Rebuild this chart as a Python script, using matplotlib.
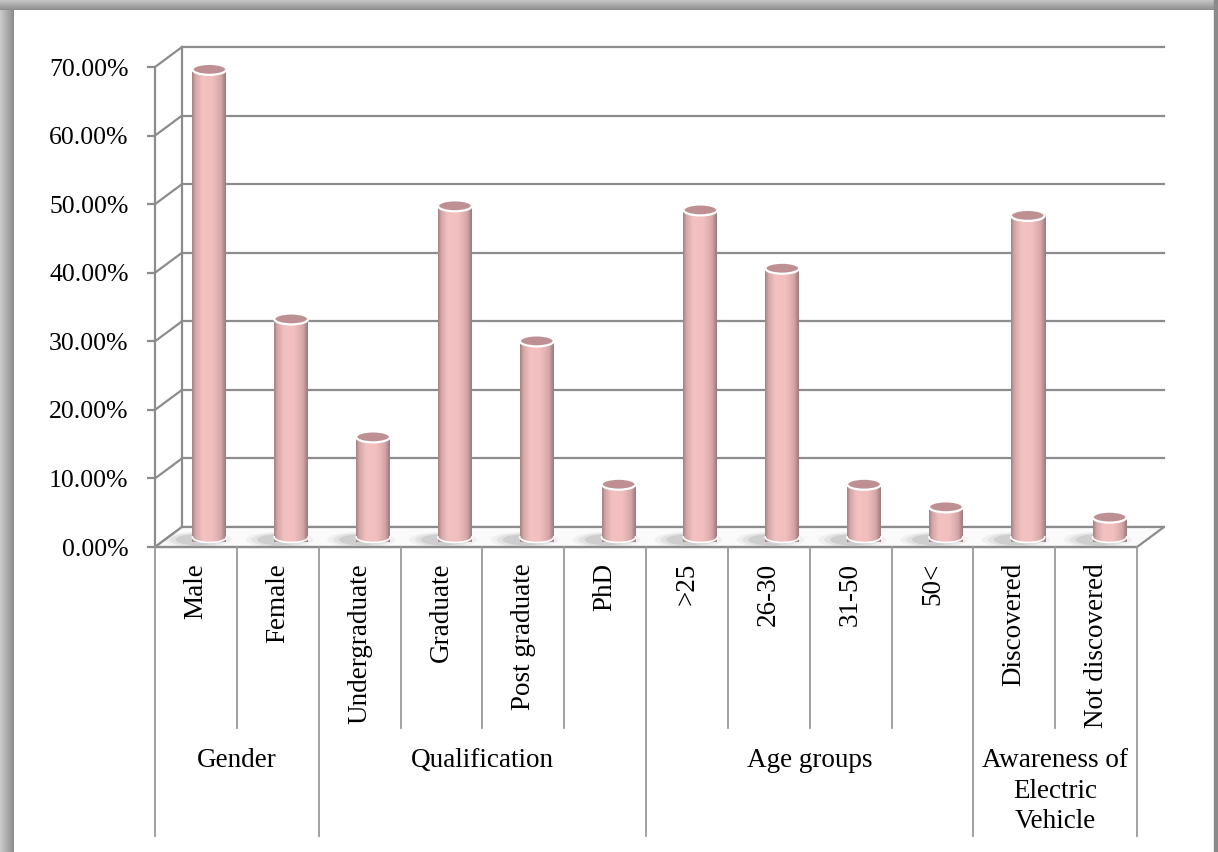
import numpy as np
import matplotlib
matplotlib.use("Agg")
import matplotlib.pyplot as plt
from matplotlib.path import Path
from matplotlib.patches import PathPatch, Ellipse, Polygon
from matplotlib.colors import LinearSegmentedColormap

# ---------------- data ----------------
categories = ["Male", "Female", "Undergraduate", "Graduate", "Post graduate", "PhD",
              ">25", "26-30", "31-50", "50<", "Discovered", "Not discovered"]
values = [68.2, 31.8, 14.6, 48.3, 28.6, 7.7, 47.7, 39.2, 7.7, 4.4, 46.9, 2.9]
groups = ["Gender", "Qualification", "Age groups", "Awareness of\nElectric\nVehicle"]
group_sizes = [2, 4, 4, 2]
yticks = [0, 10, 20, 30, 40, 50, 60, 70]
ytick_labels = ["0.00%", "10.00%", "20.00%", "30.00%", "40.00%", "50.00%", "60.00%", "70.00%"]

plt.rcParams['font.family'] = ['Liberation Serif', 'DejaVu Serif']

W, H = 1218, 852
fig = plt.figure(figsize=(W / 100, H / 100), dpi=100)
fig.patch.set_facecolor("white")

# ---------------- frame (background decoration) ----------------
bg = fig.add_axes([0, 0, 1, 1], zorder=-10)
bg.set_xlim(0, W)
bg.set_ylim(H, 0)
bg.axis("off")
left_grad = np.linspace(0.80, 0.55, 50).reshape(1, -1)
bg.imshow(left_grad, extent=[0, 14, H, 0], cmap="gray", vmin=0, vmax=1, aspect="auto")
top_grad = np.linspace(0.78, 0.55, 50).reshape(-1, 1)
bg.imshow(top_grad, extent=[0, W, 10, 0], cmap="gray", vmin=0, vmax=1, aspect="auto")
bg.add_patch(plt.Rectangle((1214, 0), 4, H, color="#8a8a8a"))
bg.set_xlim(0, W)
bg.set_ylim(H, 0)

# ---------------- main axes ----------------
x0_px, x1_px = 155, 1137
y0_px, y1_px = 547, 67
ax = fig.add_axes([x0_px / W, 1 - y0_px / H, (x1_px - x0_px) / W, (y0_px - y1_px) / H])
ax.set_facecolor("none")
n = len(categories)
xmax = n
ymax = 70.0
px_per_x = (x1_px - x0_px) / xmax
px_per_y = (y0_px - y1_px) / ymax
dx = 27 / px_per_x           # depth offset (x)
dy = 20 / px_per_y           # depth offset (y)

grid_c = "#8c8c8c"
glw = 1.6

# back wall gridlines + side wall diagonals
for t in yticks:
    ax.plot([dx, xmax + dx], [t + dy, t + dy], color=grid_c, lw=glw, clip_on=False, zorder=1)
    ax.plot([0, dx], [t, t + dy], color=grid_c, lw=glw, clip_on=False, zorder=1)
# back wall left edge
ax.plot([dx, dx], [dy, ymax + dy], color=grid_c, lw=glw, clip_on=False, zorder=1)
# floor
floor = Polygon([[0, 0], [xmax, 0], [xmax + dx, dy], [dx, dy]], closed=True,
                facecolor="#fafafa", edgecolor=grid_c, lw=glw, clip_on=False, zorder=2)
ax.add_patch(floor)

# ---------------- cylinders ----------------
cyl_cmap = LinearSegmentedColormap.from_list(
    "cyl", [(0.0, "#a58183"), (0.10, "#d4a6a7"), (0.30, "#f3c1c1"),
            (0.60, "#f2bfbf"), (0.85, "#d6a7a8"), (1.0, "#9b797b")])
grad = np.linspace(0, 1, 256).reshape(1, -1)
hw = 17 / px_per_x
eh = 5.5 / px_per_y
yb = dy / 2
for i, v in enumerate(values):
    xc = i + 0.5 + dx / 2
    # soft shadow on floor
    for k, a in enumerate([0.05, 0.08, 0.12]):
        sh = Ellipse((xc - hw * 0.7, yb - 0.4), 2 * hw * (2.0 - 0.35 * k), 2 * eh * (1.4 - 0.2 * k),
                     facecolor="#404040", edgecolor="none", alpha=a, zorder=3, clip_on=False)
        ax.add_patch(sh)
    t = np.linspace(np.pi, 2 * np.pi, 40)
    verts = [(xc - hw, yb + v)]
    verts += list(zip(xc + hw * np.cos(t), yb + eh * np.sin(t)))
    verts += [(xc + hw, yb + v), (xc - hw, yb + v)]
    codes = [Path.MOVETO] + [Path.LINETO] * (len(verts) - 2) + [Path.CLOSEPOLY]
    body = PathPatch(Path(verts, codes), facecolor="none", edgecolor="none", zorder=4, clip_on=False)
    ax.add_patch(body)
    im = ax.imshow(grad, extent=[xc - hw, xc + hw, yb - eh, yb + v], cmap=cyl_cmap,
                   aspect="auto", zorder=4, clip_on=False)
    im.set_clip_path(body)
    ax.plot(xc + hw * np.cos(t), yb + eh * np.sin(t), color="white", lw=1.2, zorder=5, clip_on=False)
    top = Ellipse((xc, yb + v), 2 * hw, 2 * eh, facecolor="#bf9093", edgecolor="white",
                  lw=1.6, zorder=6, clip_on=False)
    ax.add_patch(top)

ax.set_xlim(0, xmax)
ax.set_ylim(0, ymax)

# axes styling
for s in ["top", "right", "bottom"]:
    ax.spines[s].set_visible(False)
ax.spines["left"].set_color(grid_c)
ax.spines["left"].set_linewidth(glw)
ax.set_yticks(yticks)
ax.set_yticklabels(ytick_labels, fontsize=18.5)
ax.tick_params(axis="y", direction="out", length=6, width=glw, color=grid_c, pad=13)
ax.set_xticks([])

# ---------------- category table ----------------
inner_bottom = -(728 - y0_px) / px_per_y
group_bottom = -(836 - y0_px) / px_per_y
ax.plot([0, xmax], [0, 0], color=grid_c, lw=glw, clip_on=False, zorder=7)
bounds = np.cumsum([0] + group_sizes)
for xi in range(n + 1):
    yb_line = group_bottom if xi in bounds else inner_bottom
    ax.plot([xi, xi], [0, yb_line], color="#9a9a9a", lw=1.3, clip_on=False, zorder=7)

lab_top = -(563 - y0_px) / px_per_y
for i, c in enumerate(categories):
    ax.text(i + 0.5, lab_top, c, rotation=90, ha="center", va="top", fontsize=19.5,
            clip_on=False)

grp_top = -(748 - y0_px) / px_per_y
for g, a, b in zip(groups, bounds[:-1], bounds[1:]):
    ax.text((a + b) / 2, grp_top, g, ha="center", va="top", fontsize=19.5,
            linespacing=1.3, multialignment="center", clip_on=False)

fig.savefig("out.png", dpi=100)
